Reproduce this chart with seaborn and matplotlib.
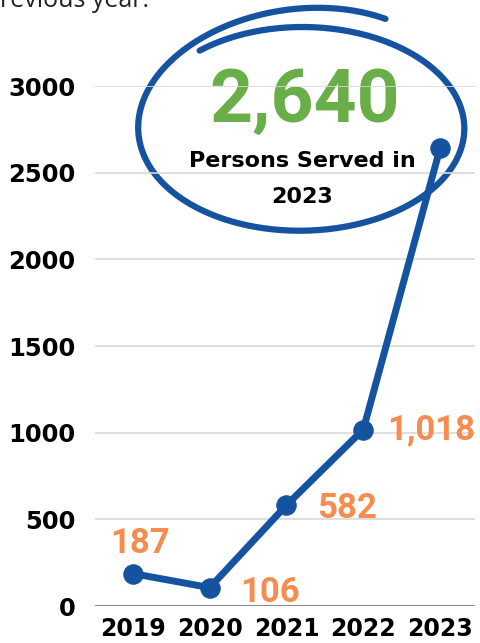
import numpy as np
import pandas as pd
import matplotlib
matplotlib.use("Agg")
import matplotlib.pyplot as plt
import seaborn as sns

# ======================
# data
years = [2019, 2020, 2021, 2022, 2023]
persons = [187, 106, 582, 1018, 2640]
point_labels = ["187", "106", "582", "1,018"]
y_ticks = [0, 500, 1000, 1500, 2000, 2500, 3000]
headline = "2,640"
headline_sub = ["Persons Served in", "2023"]

# colours
blue = "#1553a1"
orange = "#f68c4e"
green = "#6aae4a"

sns.set_theme(style="white")
plt.rcParams['font.family'] = ['DejaVu Sans']

W, H = 480, 643
fig = plt.figure(figsize=(W / 100, H / 100), dpi=100)

# overlay in pixel coords for the hand-drawn circle and headline
ov = fig.add_axes([0, 0, 1, 1], zorder=0)
ov.set_xlim(0, W)
ov.set_ylim(H, 0)
ov.axis("off")

# main chart
ax = fig.add_axes([95 / W, 1 - 606 / H, 380 / W, 520 / H], zorder=1)
ax.patch.set_alpha(0)

df = pd.DataFrame({"year": years, "persons": persons})
sns.lineplot(data=df, x="year", y="persons", ax=ax, color=blue, linewidth=5,
             marker="o", markersize=14, markeredgecolor=blue, clip_on=False)

ax.set_xlim(2018.506, 2023.455)
ax.set_ylim(0, 3000)
ax.set_xticks(years)
ax.set_xticklabels([str(y) for y in years])
ax.set_yticks(y_ticks)
ax.set_yticklabels([str(t) for t in y_ticks])
ax.set_xlabel("")
ax.set_ylabel("")
for s in ax.spines.values():
    s.set_visible(False)
ax.grid(axis="y", color="#d9d9d9", linewidth=1.2)
ax.grid(axis="x", visible=False)
ax.axhline(0, color="#8a8a8a", linewidth=1.5, zorder=1)
ax.tick_params(axis="y", length=0, pad=14, labelsize=17.5)
ax.tick_params(axis="x", length=0, pad=8, labelsize=17)
for lab in ax.get_xticklabels() + ax.get_yticklabels():
    lab.set_fontweight("bold")
    lab.set_color("black")

# value labels (offsets in pixels from each point)
offsets = [(7, 21), (60, -14), (61, -13), (68, -10)]
for yr, val, txt, off in zip(years, persons, point_labels, offsets):
    ax.annotate(txt, (yr, val), xytext=off, textcoords="offset pixels",
                ha="center", va="baseline", color=orange, fontsize=25,
                fontweight="bold", family="Roboto")

# hand-drawn spiral ellipse
phi = np.linspace(130, -300, 400)
f = (130 - phi) / 430
a = 160 + 6 * f
b = 101 + 25 * f ** 4
cx, cy = 302.5, 128
ov.plot(cx + a * np.cos(np.radians(phi)), cy - b * np.sin(np.radians(phi)),
        color=blue, linewidth=4.5, solid_capstyle="round")

ov.text(305, 122, headline, ha="center", va="baseline", color=green,
        fontsize=54, fontweight="bold", family="Roboto")
ov.text(302, 167, headline_sub[0], ha="center", va="baseline",
        color="black", fontsize=16, fontweight="bold")
ov.text(302, 203, headline_sub[1], ha="center", va="baseline",
        color="black", fontsize=16, fontweight="bold")

# cut-off line of text above the chart
fig.text(0, 1 - 7 / H, "revious year.", ha="left", va="baseline",
         fontsize=18, color="#222222", family="Open Sans")

fig.savefig("out.png", dpi=100)
plt.close()
